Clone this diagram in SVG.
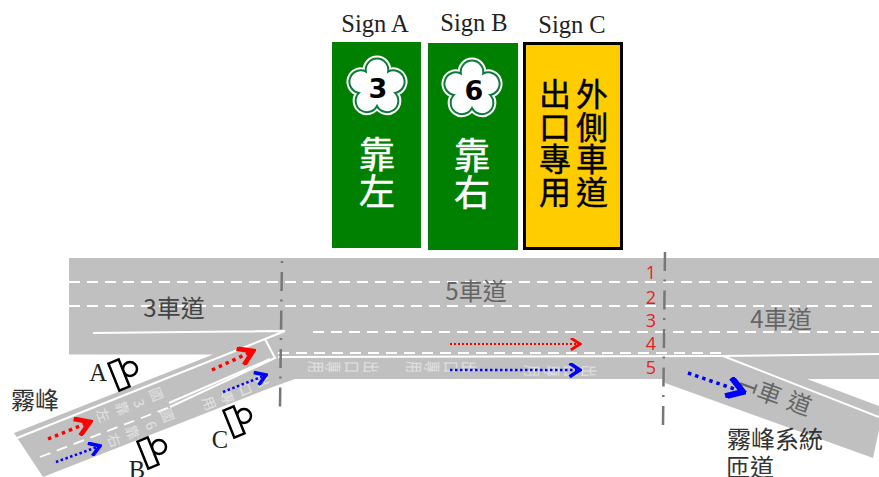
<svg xmlns="http://www.w3.org/2000/svg" width="879" height="477" viewBox="0 0 879 477">
<style>
text{font-family:"Noto Sans CJK TC","Noto Sans",sans-serif;text-anchor:middle;dominant-baseline:central}
.en{font-family:"Liberation Serif",serif;font-size:24.500px;fill:#222;dominant-baseline:auto}
.lane{font-size:24px;fill:#666}
.dark{font-size:24px;fill:#333}
.num{font-family:"Open Sans","Liberation Sans",sans-serif;font-size:18px;fill:#e82020}
.sw{font-size:36px;fill:#fff;stroke:#fff;stroke-width:.5;writing-mode:vertical-rl;letter-spacing:1px}
.sk{font-size:32px;fill:#000;stroke:#000;stroke-width:.4;writing-mode:vertical-rl;letter-spacing:.5px}
.rm{font-size:14px;fill:#e2e2e2}
.w{fill:none;stroke:#fff;stroke-width:2}
.d{fill:none;stroke:#fff;stroke-width:1.8;stroke-dasharray:11 7}
.cl{fill:none;stroke:#777;stroke-width:2.5}
.sg{fill:#fff;stroke:#000;stroke-width:2.500}
.r{fill:none;stroke:#f00}
.b{fill:none;stroke:#00f}
.fl{fill:#fff;stroke:#fff;stroke-width:6}
.fg{fill:#fff;stroke:#0a7a3a;stroke-width:2}
.fn{font-family:"DejaVu Sans",sans-serif;font-weight:bold;font-size:27px;fill:#000}
</style>
<defs>
<path id="fp" d="M-11.17-15.37A11.3 11.3 0 1 1 11.17-15.37A11.3 11.3 0 1 1 18.07 5.87A11.3 11.3 0 1 1 0 19A11.3 11.3 0 1 1-18.07 5.87A11.3 11.3 0 1 1-11.17-15.37Z"/>
<marker id="mr" viewBox="0 0 10 10" refX="8.5" refY="5" markerWidth="13" markerHeight="13" orient="auto" markerUnits="userSpaceOnUse"><path d="M1.500 0.500L8.500 5L1.500 9.500" fill="none" stroke="#f00" stroke-width="2.200"/></marker>
<marker id="mr2" viewBox="0 0 10 10" refX="8.5" refY="5" markerWidth="20" markerHeight="20" orient="auto" markerUnits="userSpaceOnUse"><path d="M1.500 0.500L8.500 5L1.500 9.500" fill="none" stroke="#f00" stroke-width="2.400"/></marker>
<marker id="mb2" viewBox="0 0 10 10" refX="8.5" refY="5" markerWidth="15" markerHeight="15" orient="auto" markerUnits="userSpaceOnUse"><path d="M1.500 0.500L8.500 5L1.500 9.500" fill="none" stroke="#00f" stroke-width="2.400"/></marker>
<marker id="mb3" viewBox="0 0 10 10" refX="8.5" refY="5" markerWidth="22" markerHeight="22" orient="auto" markerUnits="userSpaceOnUse"><path d="M1.500 0.500L8.500 5L1.500 9.500" fill="none" stroke="#00f" stroke-width="2.800"/></marker>
</defs>

<g id="road">
<path fill="#c0c0c0" d="M14 433L213 354.500H69V258H879V379H807L879 406V430L873 458L665 383L663 379H295L270 388L43 477Z"/>
<path class="w" d="M93 333L285 331L17 438"/>
<path class="w" d="M278 357L722 356L879 354"/>
<path class="w" d="M723 356L879 417"/>
<path class="w" d="M169 403L270 359M170 407L275 358L265 339"/>
<path class="d" d="M69 282H879M69 306H879M313 332H879M278 353H722"/>
<path class="d" d="M40 457L170 407"/>
<path class="cl" stroke-dasharray="19 8.500 2 9" stroke-dashoffset="24.500" d="M282 258L280 407"/>
<path class="cl" stroke-dasharray="19 8.500 2 9" d="M665 252L663 425"/>
</g>

<g id="road-markings">
<g class="rm">
<text transform="translate(157 394) rotate(68)">國</text><text transform="translate(140 403) rotate(68)">3</text><text transform="translate(123 408) rotate(68)">靠</text><text transform="translate(104 415) rotate(68)">左</text>
<text transform="translate(168 415) rotate(68)">國</text><text transform="translate(152 425) rotate(68)">6</text><text transform="translate(133 432) rotate(68)">靠</text><text transform="translate(115 440) rotate(68)">右</text>
<text transform="translate(210 403) rotate(68)">用</text><text transform="translate(228 397) rotate(68)">專</text><text transform="translate(246 389) rotate(68)">口</text><text transform="translate(263 380) rotate(68)">出</text>
<text transform="translate(317 367) rotate(90) scale(.85 1.1)">用</text><text transform="translate(334 367) rotate(90) scale(.85 1.1)">專</text><text transform="translate(353 367) rotate(90) scale(.85 1.1)">口</text><text transform="translate(372 367) rotate(90) scale(.85 1.1)">出</text>
<text transform="translate(415 367) rotate(90) scale(.85 1.1)">用</text><text transform="translate(433 367) rotate(90) scale(.85 1.1)">專</text><text transform="translate(452 367) rotate(90) scale(.85 1.1)">口</text><text transform="translate(470 367) rotate(90) scale(.85 1.1)">出</text>
<text transform="translate(533 371) rotate(90) scale(.85 1.1)">用</text><text transform="translate(553 371) rotate(90) scale(.85 1.1)">專</text><text transform="translate(572 371) rotate(90) scale(.85 1.1)">口</text><text transform="translate(590 371) rotate(90) scale(.85 1.1)">出</text>
</g>
</g>

<g id="labels">
<text class="lane" x="174" y="306" style="fill:#444">3車道</text>
<text class="lane" x="476" y="289">5車道</text>
<text class="lane" x="781" y="317">4車道</text>
<text class="lane" transform="translate(746 386) rotate(-70)">1</text>
<text class="lane" transform="translate(770 392) rotate(20)">車</text>
<text class="lane" transform="translate(800 402) rotate(20)">道</text>
<text class="num" x="651" y="272">1</text>
<text class="num" x="651" y="297">2</text>
<text class="num" x="651" y="320">3</text>
<text class="num" x="651" y="343">4</text>
<text class="num" x="651" y="367">5</text>
<text class="dark" x="35" y="398">霧峰</text>
<text class="dark" x="775" y="437">霧峰系統</text>
<text class="dark" x="750" y="465">匝道</text>
</g>

<g id="sign-a">
<rect x="332" y="42" width="89" height="206" fill="#008000"/>
<g transform="translate(377 87)"><use href="#fp" class="fl"/><use href="#fp" class="fg"/><text class="fn" x="1" y="1">3</text></g>
<text class="sw" x="377" y="173.500">靠左</text>
<text class="en" x="375" y="32">Sign A</text>
</g>
<g id="sign-b">
<rect x="428" y="43" width="90" height="207" fill="#008000"/>
<g transform="translate(472 89)"><use href="#fp" class="fl"/><use href="#fp" class="fg"/><text class="fn" x="2" y="1">6</text></g>
<text class="sw" x="472" y="174.500">靠右</text>
<text class="en" x="474" y="31">Sign B</text>
</g>
<g id="sign-c">
<rect x="524.500" y="43.500" width="97" height="205" fill="#ffcc00" stroke="#000" stroke-width="3"/>
<text class="sk" x="555" y="143">出口專用</text>
<text class="sk" x="592" y="143">外側車道</text>
<text class="en" x="572" y="33">Sign C</text>
</g>

<g id="gantry-a">
<circle cx="130" cy="369" r="7" class="sg"/>
<rect x="113.500" y="360.500" width="11" height="29" class="sg" transform="rotate(-22 119 375)"/>
<text class="en" x="98" y="381">A</text>
</g>
<g id="gantry-b">
<circle cx="159" cy="447" r="7" class="sg"/>
<rect x="142.500" y="438.500" width="11" height="29" class="sg" transform="rotate(-22 148 453)"/>
<text class="en" x="137" y="478">B</text>
</g>
<g id="gantry-c">
<circle cx="244" cy="416" r="7" class="sg"/>
<rect x="228.500" y="407.500" width="11" height="29" class="sg" transform="rotate(-22 234 422)"/>
<text class="en" x="220" y="448">C</text>
</g>

<g id="connectors">
<path class="r" stroke-width="3.500" stroke-dasharray="3.500 4" marker-end="url(#mr2)" d="M48 439L90 422"/>
<path class="r" stroke-width="3.500" stroke-dasharray="3.500 4" marker-end="url(#mr2)" d="M212 370L253 351"/>
<path class="b" stroke-width="2.500" stroke-dasharray="2.500 2.500" marker-end="url(#mb2)" d="M56 462L100 446"/>
<path class="b" stroke-width="2.500" stroke-dasharray="2.500 2.500" marker-end="url(#mb2)" d="M223 392L266 375"/>
<path class="r" stroke-width="2" stroke-dasharray="2 2" marker-end="url(#mr)" d="M450 344H580"/>
<path class="b" stroke-width="2.500" stroke-dasharray="2.500 2.500" marker-end="url(#mb2)" d="M450 370H580"/>
<path class="b" stroke-width="3.500" stroke-dasharray="3.500 4" marker-end="url(#mb3)" d="M688 373L743 392"/>
</g>
</svg>
